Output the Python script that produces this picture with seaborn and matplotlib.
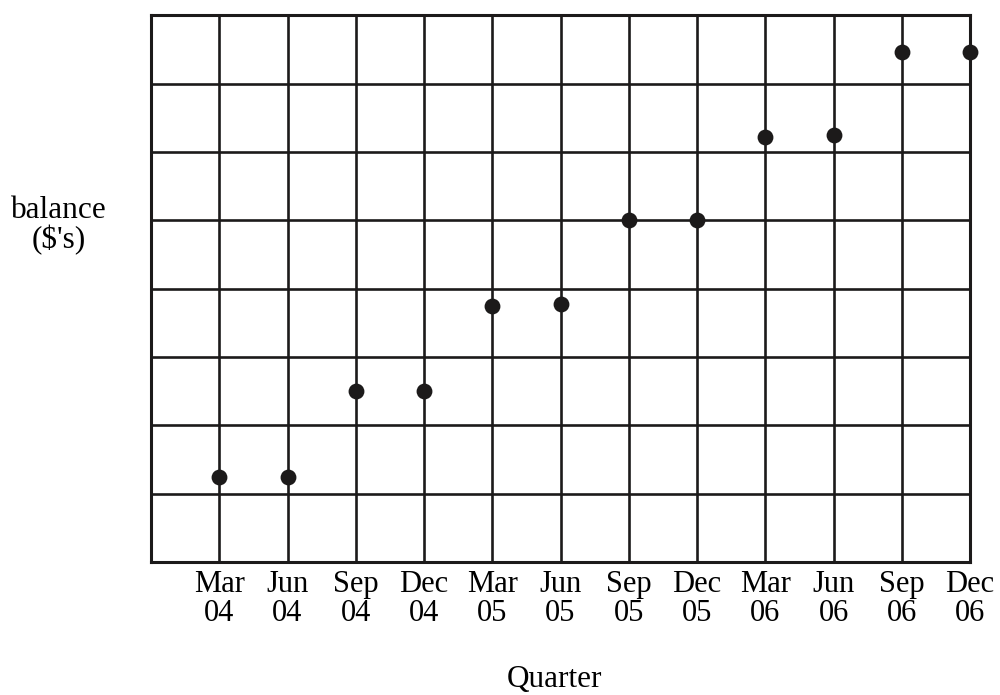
import matplotlib
matplotlib.use("Agg")
import matplotlib.pyplot as plt
import seaborn as sns
import pandas as pd

quarters = ["Mar\n04", "Jun\n04", "Sep\n04", "Dec\n04", "Mar\n05", "Jun\n05",
            "Sep\n05", "Dec\n05", "Mar\n06", "Jun\n06", "Sep\n06", "Dec\n06"]
positions = [1, 2, 3, 4, 5, 6, 7, 8, 9, 10, 11, 12]
balance = [1.25, 1.25, 2.5, 2.5, 3.75, 3.78, 5.0, 5.0, 6.22, 6.25, 7.47, 7.47]

df = pd.DataFrame({"pos": positions, "balance": balance, "quarter": quarters})

sns.set_theme(style="white")
plt.rcParams["font.family"] = ["Liberation Serif", "DejaVu Serif"]

fig = plt.figure(figsize=(10, 6.95), dpi=100)
ax = fig.add_axes([0.151, 0.1914, 0.819, 0.7863])

col = "#1c1a1a"
sns.scatterplot(data=df, x="pos", y="balance", ax=ax, s=130, color=col,
                edgecolor=col, linewidth=0, zorder=5, clip_on=False)

ax.set_xlim(0, 12)
ax.set_ylim(0, 8)
ax.set_xticks(positions)
ax.set_xticklabels(quarters, fontsize=22, linespacing=1.0)
ax.set_yticks(range(1, 8))
ax.set_yticklabels([])
ax.grid(True, color=col, linewidth=1.9)
ax.tick_params(axis="x", length=0, pad=6, colors="black")
ax.tick_params(axis="y", length=0)
for s in ax.spines.values():
    s.set_color(col)
    s.set_linewidth(2.2)
    s.set_visible(True)
ax.set_axisbelow(True)

ax.set_xlabel("")
ax.set_ylabel("")
fig.text(0.059, 0.676, "balance\n($'s)", ha="center", va="center",
         fontsize=22.5, linespacing=1.0, color="black")
fig.text(0.554, 0.022, "Quarter", ha="center", va="center", fontsize=22.5,
         color="black")

fig.savefig("out.png", dpi=100, facecolor="white")
